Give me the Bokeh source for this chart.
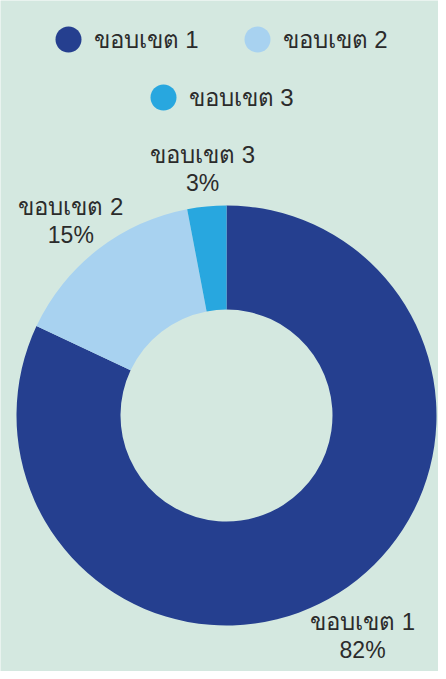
import math
from bokeh.plotting import figure
from bokeh.models import Range1d, ColumnDataSource
from bokeh.core.properties import value
from bokeh.embed import file_html
from bokeh.resources import INLINE

categories = ["ขอบเขต 1", "ขอบเขต 2", "ขอบเขต 3"]
shares = [82, 15, 3]
colors = ["#253f8f", "#a8d2f0", "#28a7df"]

W, H = 438, 671
BG = "#d4e8e0"
cx, cy = 226, 256
r_out, r_in = 210, 106
r_lab = 254

total = sum(shares)
starts, ends, lx, ly, pct = [], [], [], [], []
acc = 0.0
for s in shares:
    a0 = math.pi / 2 - 2 * math.pi * acc / total
    a1 = math.pi / 2 - 2 * math.pi * (acc + s) / total
    starts.append(a0)
    ends.append(a1)
    mid = (a0 + a1) / 2
    lx.append(cx + r_lab * math.cos(mid))
    ly.append(cy + r_lab * math.sin(mid))
    pct.append(f"{s}%")
    acc += s

src = ColumnDataSource(dict(start=starts, end=ends, color=colors,
                            lx=lx, ly=ly, name=categories, pct=pct,
                            x=[cx] * 3, y=[cy] * 3))

p = figure(width=W, height=H, x_range=Range1d(0, W), y_range=Range1d(0, H),
           output_backend="svg", toolbar_location=None, min_border=0,
           background_fill_color=BG, border_fill_color=BG, outline_line_color=None)
p.axis.visible = False
p.grid.visible = False

p.annular_wedge(x="x", y="y", inner_radius=r_in, outer_radius=r_out,
                start_angle="start", end_angle="end", direction="clock",
                fill_color="color", line_color=None, source=src)

font = value("Liberation Sans")
p.text(x="lx", y="ly", text="name", text_align="center", text_baseline="middle",
       y_offset=-8, text_font=font, text_font_size="24px", text_color="#2b2b2b", source=src)
p.text(x="lx", y="ly", text="pct", text_align="center", text_baseline="middle",
       y_offset=20, text_font=font, text_font_size="23px", text_color="#2b2b2b", source=src)

# legend
leg_x = [68, 257, 163]
leg_y = [632, 632, 574]
lsrc = ColumnDataSource(dict(x=leg_x, y=leg_y, tx=[v + 25 for v in leg_x],
                             color=colors, name=categories))
p.scatter(x="x", y="y", size=26, marker="circle", fill_color="color",
          line_color=None, source=lsrc)
p.text(x="tx", y="y", text="name", text_align="left", text_baseline="middle",
       text_font=font, text_font_size="24px", text_color="#2b2b2b", source=lsrc)

open("out.html", "w").write(file_html(p, INLINE))
